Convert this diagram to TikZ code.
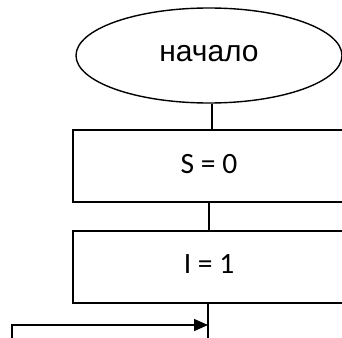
\documentclass[tikz,border=0pt]{standalone}
\usepackage{fontspec}
\setmainfont{Liberation Sans}
\newfontfamily\calibri{Carlito}
\usetikzlibrary{shapes.geometric,arrows.meta,positioning}

\begin{document}
\begin{tikzpicture}[x=1pt,y=-1pt,line width=1.4pt,
    blocco/.style={draw,rectangle,line width=1.8pt,minimum width=272pt,minimum height=72pt,
        inner sep=0pt,font=\calibri\fontsize{29.5}{32}\selectfont},
    terminale/.style={draw,ellipse,minimum width=266pt,minimum height=95pt,
        inner sep=0pt,font=\fontsize{30}{34}\selectfont}]

        \useasboundingbox (0,0) rectangle (342,337);
        \clip (0,0) rectangle (342,337);

        % Inizio
        \node[terminale] (inizio) at (209,55.5) {\raisebox{4pt}{начало}};

        % Assegnazioni
        \node[blocco] (somma) at (209,166) {\raisebox{5pt}{S = 0}};
        \node[blocco] (indice) at (209,267) {\raisebox{5pt}{I = 1}};

        % Punti liberi del ciclo
        \coordinate (giu) at (208,345);
        \coordinate (ritorno) at (12,345);
        \coordinate (ingresso) at (208,325);

        % Collegamenti
        \draw ([xshift=3pt]inizio.south) -- ([xshift=3pt]inizio.south |- somma.north);
        \draw (somma.south) -- (indice.north);
        \draw ([xshift=-1pt]indice.south) -- (giu);
        \draw[-{Triangle[length=14pt,width=12pt]}] (ritorno) |- (ingresso);

\end{tikzpicture}
\end{document}
